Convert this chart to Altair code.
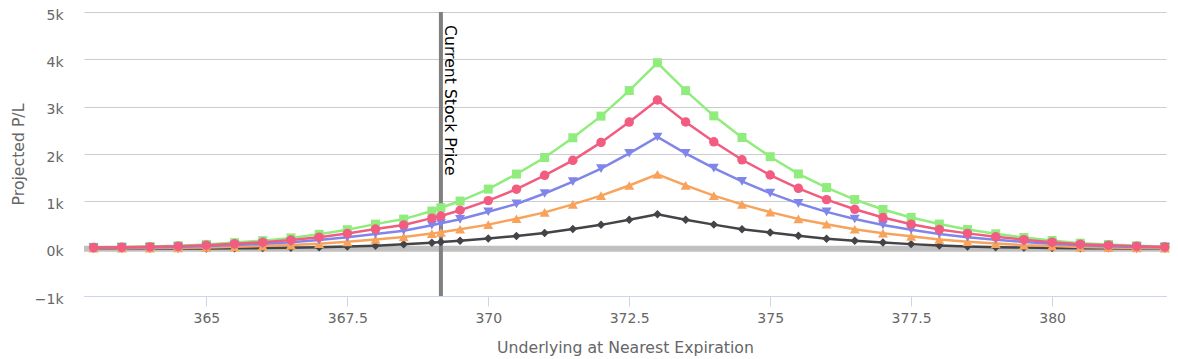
import altair as alt
import pandas as pd

# Underlying price grid (x) and the current stock price
xs = [363, 363.5, 364, 364.5, 365, 365.5, 366, 366.5, 367, 367.5, 368, 368.5, 369, 369.16,
      369.5, 370, 370.5, 371, 371.5, 372, 372.5, 373, 373.5, 374, 374.5, 375, 375.5, 376,
      376.5, 377, 377.5, 378, 378.5, 379, 379.5, 380, 380.5, 381, 381.5, 382]
current_price = 369.16

# Projected P/L series
black = [1, 1, 2, 3, 5, 8, 12, 18, 28, 44, 64, 92, 126, 139, 168, 215, 268, 332, 416, 503,
         612, 728, 610, 508, 412, 340, 272, 210, 166, 130, 96, 68, 46, 32, 22, 16, 10, 7, 5, 3]
green = [30, 36, 48, 62, 90, 128, 170, 228, 304, 400, 518, 625, 795, 865, 1006, 1259, 1576,
         1926, 2342, 2800, 3340, 3928, 3339, 2806, 2349, 1943, 1579, 1291, 1038, 827, 660,
         520, 404, 314, 236, 173, 116, 88, 61, 46]
orange = [8, 10, 13, 18, 26, 38, 54, 76, 106, 145, 195, 248, 318, 345, 410, 508, 632, 767,
          935, 1121, 1335, 1570, 1336, 1121, 935, 772, 628, 516, 410, 328, 260, 195, 148, 108,
          74, 55, 33, 23, 16, 11]
blue = [18, 22, 29, 37, 54, 77, 102, 137, 182, 240, 311, 380, 495, 535, 620, 780, 945, 1165,
        1415, 1690, 2015, 2360, 2012, 1700, 1420, 1172, 958, 778, 626, 502, 400, 312, 242,
        188, 142, 104, 70, 53, 37, 28]
pink = [24, 29, 38, 50, 72, 102, 136, 182, 243, 320, 414, 500, 645, 690, 812, 1015, 1256,
        1550, 1866, 2245, 2675, 3141, 2678, 2257, 1878, 1556, 1274, 1036, 832, 657, 516, 404,
        323, 251, 189, 138, 93, 70, 49, 37]

series = [
    ("black", black, "#434348", "diamond", 72),
    ("green", green, "#90ed7d", "square", 81),
    ("orange", orange, "#f7a35c", "triangle-up", 100),
    ("blue", blue, "#8085e9", "triangle-down", 100),
    ("pink", pink, "#f15c80", "circle", 90),
]

x_ticks = [365, 367.5, 370, 372.5, 375, 377.5, 380]
y_ticks = [-1000, 0, 1000, 2000, 3000, 4000, 5000]

FONT = "DejaVu Sans"

x_scale = alt.Scale(domain=[362.83, 382.02], nice=False, zero=False)
y_scale = alt.Scale(domain=[-1000, 5000], nice=False)

x_axis = alt.Axis(
    title="Underlying at Nearest Expiration", values=x_ticks,
    labelExpr="toString(datum.value)",
    grid=False, domainColor="#ccd6eb", tickColor="#ccd6eb", tickSize=10,
    labelFontSize=14, labelColor="#666666", labelFont=FONT, labelPadding=5,
    titleFontSize=15.7, titleColor="#666666", titleFont=FONT, titleFontWeight="normal",
    titlePadding=15,
)
y_axis = alt.Axis(
    title="Projected P/L", values=y_ticks,
    labelExpr="format(datum.value / 1000, 'd') + 'k'",
    grid=True, gridColor="#cccccc", domain=False, ticks=False, tickSize=0,
    labelFontSize=14, labelColor="#666666", labelFont=FONT, labelPadding=21,
    labelOffset=3,
    titleFontSize=15.7, titleColor="#666666", titleFont=FONT, titleFontWeight="normal",
    titlePadding=8,
)

layers = []

# zero plot band
zero_df = pd.DataFrame({"y": [0]})
layers.append(
    alt.Chart(zero_df).mark_rule(color="#c0c0c0", strokeWidth=6).encode(
        y=alt.Y("y:Q", scale=y_scale, axis=y_axis)
    )
)

# current stock price line
cur_df = pd.DataFrame({"x": [current_price]})
layers.append(
    alt.Chart(cur_df).mark_rule(color="#808080", strokeWidth=4).encode(
        x=alt.X("x:Q", scale=x_scale, axis=x_axis)
    )
)

for name, vals, color, shape, size in series:
    df = pd.DataFrame({"x": xs, "y": vals})
    layers.append(
        alt.Chart(df).mark_line(
            color=color, strokeWidth=2.5,
            point=alt.OverlayMarkDef(shape=shape, size=size, filled=True, color=color, opacity=1),
        ).encode(
            x=alt.X("x:Q", scale=x_scale, axis=x_axis),
            y=alt.Y("y:Q", scale=y_scale, axis=y_axis),
        )
    )

label_df = pd.DataFrame({"x": [current_price], "y": [5000], "t": ["Current Stock Price"]})
layers.append(
    alt.Chart(label_df).mark_text(
        angle=90, align="left", baseline="alphabetic", dx=13, dy=-4,
        fontSize=15.7, font=FONT, color="#000000",
    ).encode(
        x=alt.X("x:Q", scale=x_scale, axis=x_axis),
        y=alt.Y("y:Q", scale=y_scale, axis=y_axis),
        text="t:N",
    )
)

chart = alt.layer(*layers).properties(
    width=1082, height=284,
    autosize=alt.AutoSizeParams(type="none"),
    padding={"left": 76, "top": 4, "right": 4, "bottom": 62},
    background="white",
).configure_view(stroke=None)

chart.save("out.html", embed_options={"renderer": "svg", "actions": False})
